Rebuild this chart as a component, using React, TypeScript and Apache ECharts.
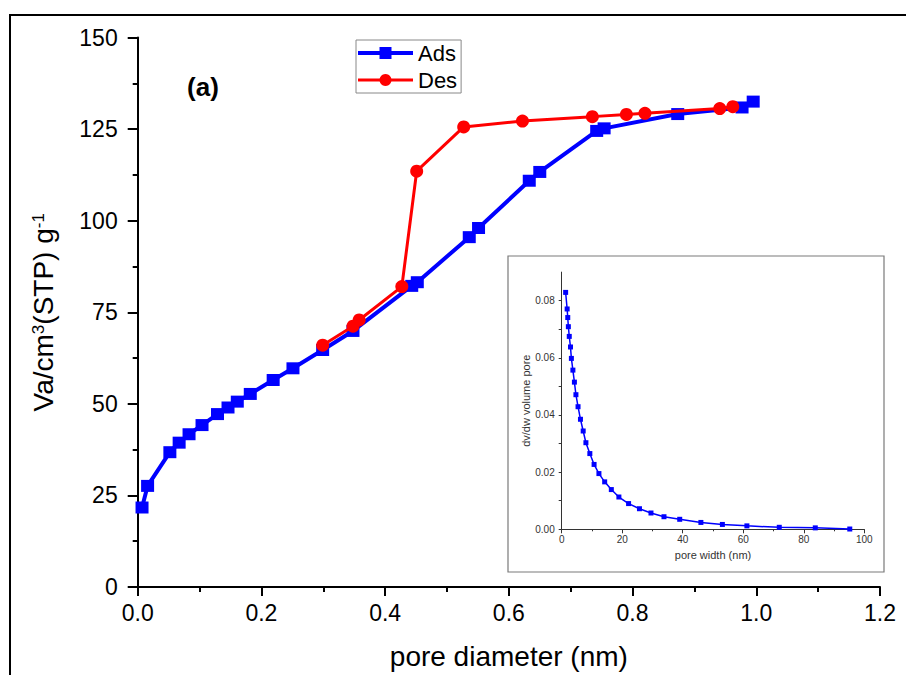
import React, { useEffect, useRef } from "react";
import * as echarts from "echarts";

// Main isotherm (pore diameter, nm vs adsorbed volume)
const adsX = [0.007, 0.016, 0.052, 0.067, 0.083, 0.104, 0.129, 0.146, 0.161, 0.182, 0.219, 0.251, 0.299, 0.348, 0.443, 0.452, 0.536, 0.551, 0.633, 0.650, 0.742, 0.754, 0.873, 0.977, 0.995];
const adsY = [21.7, 27.6, 36.8, 39.4, 41.7, 44.2, 47.2, 49.0, 50.6, 52.7, 56.5, 59.7, 64.7, 69.9, 82.2, 83.2, 95.5, 98.0, 110.9, 113.3, 124.5, 125.2, 129.1, 130.9, 132.5];
const desX = [0.299, 0.348, 0.358, 0.427, 0.451, 0.527, 0.622, 0.735, 0.790, 0.820, 0.941, 0.962];
const desY = [66.0, 71.2, 72.9, 82.0, 113.5, 125.6, 127.2, 128.4, 129.0, 129.3, 130.6, 131.1];

// Inset: pore size distribution
const poreWidth = [1.3, 1.8, 2.0, 2.2, 2.5, 2.9, 3.2, 3.7, 4.2, 4.7, 5.4, 6.2, 7.1, 8.0, 9.3, 10.7, 12.3, 14.2, 16.4, 18.9, 22.1, 25.7, 29.5, 33.8, 39.0, 46.0, 53.1, 61.2, 71.9, 83.8, 95.2];
const dvdw = [0.0829, 0.0771, 0.0741, 0.0709, 0.0675, 0.0638, 0.0598, 0.0557, 0.0515, 0.0471, 0.0429, 0.0385, 0.0344, 0.0303, 0.0265, 0.0227, 0.0195, 0.0166, 0.0139, 0.0113, 0.0090, 0.0072, 0.0057, 0.0044, 0.0035, 0.0024, 0.0017, 0.0012, 0.0007, 0.0005, 0.0001];

const seriesNames = ["Ads", "Des"];
const xTitle = "pore diameter (nm)";
const insetXTitle = "pore width (nm)";
const insetYTitle = "dv/dw volume pore";
const panelLabel = "(a)";

const FONT = 'Arial, "Liberation Sans", Helvetica, sans-serif';
const BLUE = "#0000ff";
const RED = "#ff0000";

export default function App() {
  const ref = useRef<HTMLDivElement>(null);
  useEffect(() => {
    if (!ref.current) return;
    const chart = echarts.init(ref.current, undefined, { renderer: "svg" });
    const mainAxisLine = { lineStyle: { color: "#000", width: 2 } };
    const option: any = {
      animation: false,
      textStyle: { fontFamily: FONT },
      grid: [
        { left: 137.7, top: 37.5, width: 742.3, height: 549.5, outerBoundsMode: "none" },
        { left: 561.7, top: 272.1, width: 302.6, height: 257.2, outerBoundsMode: "none" },
      ],
      legend: {
        data: [
          { name: seriesNames[0], lineStyle: { width: 4, color: BLUE }, itemStyle: { color: BLUE } },
          { name: seriesNames[1], lineStyle: { width: 3, color: RED }, itemStyle: { color: RED } },
        ],
        orient: "vertical",
        left: 356,
        top: 40,
        padding: [2, 4, 2, 0],
        itemWidth: 55,
        itemHeight: 15,
        itemGap: 5,
        borderColor: "#888",
        borderWidth: 1,
        textStyle: { fontSize: 22, color: "#000", fontFamily: FONT },
      },
      xAxis: [
        {
          type: "value",
          gridIndex: 0,
          min: 0,
          max: 1.2,
          interval: 0.2,
          splitLine: { show: false },
          axisLine: mainAxisLine,
          axisTick: { length: 9, lineStyle: { color: "#000", width: 2 } },
          minorTick: { show: true, splitNumber: 2, length: 5, lineStyle: { color: "#000", width: 2 } },
          axisLabel: { fontSize: 23, color: "#000", margin: 14, formatter: (v: number) => v.toFixed(1) },
          name: xTitle,
          nameLocation: "middle",
          nameGap: 55,
          nameTextStyle: { fontSize: 28, color: "#000" },
        },
        {
          type: "value",
          gridIndex: 1,
          min: 0,
          max: 100,
          interval: 20,
          splitLine: { show: false },
          axisLine: { lineStyle: { color: "#333", width: 1 } },
          axisTick: { length: 4, lineStyle: { color: "#333", width: 1 } },
          minorTick: { show: true, splitNumber: 2, length: 2, lineStyle: { color: "#333", width: 1 } },
          axisLabel: { fontSize: 10, color: "#333", margin: 5 },
          name: insetXTitle,
          nameLocation: "middle",
          nameGap: 20,
          nameTextStyle: { fontSize: 11, color: "#333" },
        },
      ],
      yAxis: [
        {
          type: "value",
          gridIndex: 0,
          min: 0,
          max: 150,
          interval: 25,
          splitLine: { show: false },
          axisLine: mainAxisLine,
          axisTick: { length: 10, lineStyle: { color: "#000", width: 2 } },
          minorTick: { show: true, splitNumber: 2, length: 5, lineStyle: { color: "#000", width: 2 } },
          axisLabel: { fontSize: 23, color: "#000", margin: 20 },
          name: "{n|Va/cm}{s|3}{n|(STP) g}{s|-1}",
          nameLocation: "middle",
          nameGap: 80,
          nameTextStyle: {
            fontSize: 28,
            color: "#000",
            rich: {
              n: { fontSize: 28, color: "#000", fontFamily: FONT },
              s: { fontSize: 17, color: "#000", fontFamily: FONT, verticalAlign: "top" },
            },
          },
        },
        {
          type: "value",
          gridIndex: 1,
          min: 0,
          max: 0.09,
          interval: 0.01,
          splitLine: { show: false },
          axisLine: { lineStyle: { color: "#333", width: 1 } },
          axisTick: { length: 3, lineStyle: { color: "#333", width: 1 } },
          axisLabel: {
            fontSize: 10,
            color: "#333",
            margin: 7,
            showMaxLabel: false,
            formatter: (v: number) => (Math.round(v * 100) % 2 === 0 ? v.toFixed(2) : ""),
          },
          name: insetYTitle,
          nameLocation: "middle",
          nameGap: 28,
          nameTextStyle: { fontSize: 11, color: "#333" },
        },
      ],
      graphic: [
        {
          type: "rect",
          silent: true,
          shape: { x: 10, y: 15, width: 1000, height: 1000 },
          style: { fill: "none", stroke: "#000", lineWidth: 2 },
          z: 0,
        },
        {
          type: "rect",
          silent: true,
          shape: { x: 508, y: 256, width: 376, height: 316 },
          style: { fill: "none", stroke: "#7a7a7a", lineWidth: 1.2 },
          z: 0,
        },
        {
          type: "text",
          x: 203,
          y: 87,
          style: {
            text: panelLabel,
            fontSize: 26,
            fontWeight: "bold",
            fontFamily: FONT,
            fill: "#000",
            align: "center",
            verticalAlign: "middle",
          },
        },
      ],
      series: [
        {
          name: "Ads",
          type: "line",
          xAxisIndex: 0,
          yAxisIndex: 0,
          data: adsX.map((x, i) => [x, adsY[i]]),
          symbol: "rect",
          symbolSize: [13, 12],
          lineStyle: { color: BLUE, width: 4 },
          itemStyle: { color: BLUE },
          z: 2,
        },
        {
          name: "Des",
          type: "line",
          xAxisIndex: 0,
          yAxisIndex: 0,
          data: desX.map((x, i) => [x, desY[i]]),
          symbol: "circle",
          symbolSize: 13,
          lineStyle: { color: RED, width: 3 },
          itemStyle: { color: RED },
          z: 3,
        },
        {
          name: "PSD",
          type: "line",
          xAxisIndex: 1,
          yAxisIndex: 1,
          data: poreWidth.map((x, i) => [x, dvdw[i]]),
          symbol: "rect",
          symbolSize: 5,
          lineStyle: { color: BLUE, width: 1.5 },
          itemStyle: { color: BLUE },
          z: 2,
        },
      ],
    };
    chart.setOption(option);
    return () => chart.dispose();
  }, []);
  return (
    <div
      ref={ref}
      style={{ position: "absolute", left: 0, top: 0, width: 906, height: 675, background: "#fff" }}
    />
  );
}
